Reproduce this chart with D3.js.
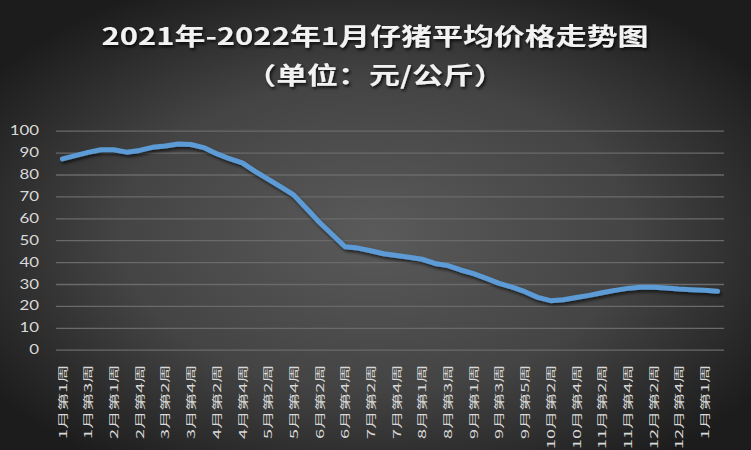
<!DOCTYPE html>
<html><head><meta charset="utf-8">
<script src="https://cdn.jsdelivr.net/npm/d3@7/dist/d3.min.js"></script>
<style>html,body{margin:0;padding:0;background:#000;}svg{display:block;}</style>
</head><body>
<script>
const titleLines = ["2021年-2022年1月仔猪平均价格走势图", "（单位：元/公斤）"];
const weeks = [
 "1月第1周","1月第2周","1月第3周","1月第4周","2月第1周","2月第3周","2月第4周",
 "3月第1周","3月第2周","3月第3周","3月第4周","4月第1周","4月第2周","4月第3周","4月第4周",
 "5月第1周","5月第2周","5月第3周","5月第4周","6月第1周","6月第2周","6月第3周","6月第4周",
 "7月第1周","7月第2周","7月第3周","7月第4周","7月第5周","8月第1周","8月第2周","8月第3周","8月第4周",
 "9月第1周","9月第2周","9月第3周","9月第4周","9月第5周","10月第1周","10月第2周","10月第3周","10月第4周",
 "11月第1周","11月第2周","11月第3周","11月第4周","12月第1周","12月第2周","12月第3周","12月第4周","12月第5周",
 "2022年1月第1周","2022年1月第2周"
];
const weekLabels = weeks.map(w => w.replace("2022年", ""));
const prices = [
 87.1,88.6,90.1,91.3,91.3,90.2,91.0,
 92.4,93.0,93.9,93.7,92.3,89.5,87.2,85.3,
 81.4,77.9,74.3,70.7,64.5,58.2,52.6,47.0,
 46.4,45.2,43.8,43.0,42.2,41.3,39.4,38.4,36.4,
 34.7,32.6,30.3,28.6,26.5,23.9,22.4,22.8,23.8,
 24.8,26.0,27.1,28.0,28.5,28.5,28.2,27.7,27.4,
 27.1,26.7
];
const yTicks = [0,10,20,30,40,50,60,70,80,90,100];

const W = 751, H = 450;
const plot = {left:56, right:724, top:130.7, bottom:349.7};
const svg = d3.select("body").append("svg").attr("width", W).attr("height", H);
const defs = svg.append("defs");
const grad = defs.append("radialGradient").attr("id","bg")
  .attr("cx","50%").attr("cy","52%").attr("r","62%");
grad.append("stop").attr("offset","0%").attr("stop-color","#5a5a5a");
grad.append("stop").attr("offset","55%").attr("stop-color","#444444");
grad.append("stop").attr("offset","100%").attr("stop-color","#1c1c1c");
const sh = defs.append("filter").attr("id","shadow").attr("x","-10%").attr("y","-10%").attr("width","130%").attr("height","140%");
sh.append("feDropShadow").attr("dx",1.5).attr("dy",2.5).attr("stdDeviation",1.6)
  .attr("flood-color","#000").attr("flood-opacity",0.6);
const tsh = defs.append("filter").attr("id","tshadow").attr("x","-10%").attr("y","-30%").attr("width","130%").attr("height","180%");
tsh.append("feDropShadow").attr("dx",1.5).attr("dy",2).attr("stdDeviation",1.5)
  .attr("flood-color","#000").attr("flood-opacity",0.8);

svg.append("rect").attr("width",W).attr("height",H).attr("fill","url(#bg)");

// title
const tsx = 1.29;
svg.append("g").attr("filter","url(#tshadow)").selectAll("text").data(titleLines).join("text")
  .attr("transform",(d,i)=>`translate(375,${i===0?45:84}) scale(${tsx},1)`)
  .attr("text-anchor","middle")
  .attr("font-family","'Noto Sans CJK SC', sans-serif")
  .attr("font-weight","bold").attr("font-size",24)
  .attr("fill","#f2f2f2").text(d=>d);

const x = d3.scalePoint().domain(weeks).range([plot.left, plot.right]).padding(0.5);
const y = d3.scaleLinear().domain([0,100]).range([plot.bottom, plot.top]);

// gridlines + y labels
const ysx = 1.35;
const yAxis = svg.append("g").attr("transform",`translate(${plot.left},0)`)
  .call(d3.axisLeft(y).tickValues(yTicks).tickSize(-(plot.right-plot.left)).tickPadding(0));
yAxis.select(".domain").remove();
yAxis.selectAll(".tick line").attr("stroke","#6a6a6a").attr("stroke-width",1.3);
yAxis.selectAll(".tick text")
  .attr("x", -17/ysx).attr("transform",`scale(${ysx},1)`)
  .attr("font-family","Lato, 'Liberation Sans', sans-serif").attr("font-size",12.5)
  .attr("fill","#d9d9d9");

// x axis labels
const xsx = 1.72;
const xAxis = svg.append("g").attr("transform",`translate(0,${plot.bottom})`)
  .call(d3.axisBottom(x).tickValues(weeks.filter((d,i)=>i%2===0)).tickSize(0)
    .tickFormat(d => weekLabels[weeks.indexOf(d)]));
xAxis.select(".domain").remove();
xAxis.selectAll(".tick text")
  .attr("transform",`rotate(-90) scale(${xsx},1)`)
  .attr("text-anchor","end")
  .attr("x", -15/xsx).attr("y",0).attr("dy","0.36em")
  .attr("font-family","'Noto Sans CJK SC', sans-serif").attr("font-size",10.5)
  .attr("fill","#d9d9d9");

// line
const line = d3.line().x((d,i)=>x(weeks[i])).y(d=>y(d));
svg.append("path").datum(prices).attr("d",line)
  .attr("fill","none").attr("stroke","#5b9bd5").attr("stroke-width",5)
  .attr("stroke-linecap","round").attr("stroke-linejoin","round")
  .attr("filter","url(#shadow)");
</script>
</body></html>
